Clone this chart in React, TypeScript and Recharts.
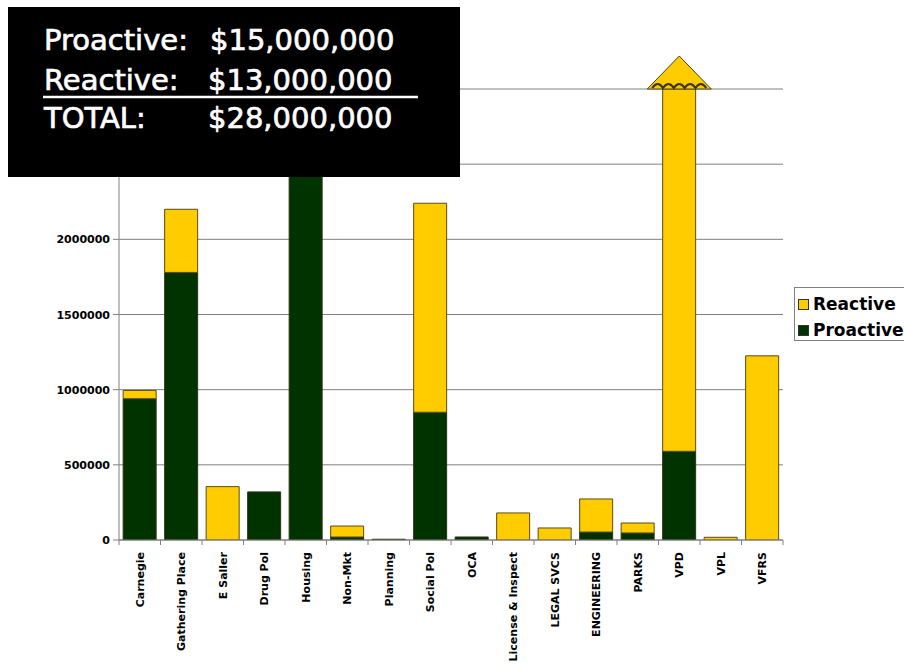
import { BarChart, Bar, XAxis, YAxis, CartesianGrid, ReferenceDot } from 'recharts';

const departments = [
  'Carnegie', 'Gathering Place', 'E Saller', 'Drug Pol', 'Housing', 'Non-Mkt', 'Planning', 'Social Pol',
  'OCA', 'License & Inspect', 'LEGAL SVCS', 'ENGINEERING', 'PARKS', 'VPD', 'VPL', 'VFRS',
];
const proactive = [940000, 1780000, 0, 320000, 10400000, 20000, 5000, 850000, 20000, 0, 0, 53000, 47000, 590000, 0, 0];
const reactive = [55000, 420000, 355000, 0, 0, 73000, 0, 1390000, 0, 180000, 80000, 220000, 66000, 8930000, 18000, 1225000];
const yTicks = [0, 500000, 1000000, 1500000, 2000000, 2500000, 3000000];
const yMax = 3000000;
// labels above this sit under the totals box in the original
const yLabelMax = 2000000;

const data = departments.map((name, i) => ({ name, proactive: proactive[i], reactive: reactive[i] }));

const YELLOW = '#FFCC00';
const GREEN = '#003300';
const GRID = '#808080';
const FONT = '"DejaVu Sans", Verdana, sans-serif';

// width of one category band: plot width / number of categories
const STEP = (904 - 119 - 121) / departments.length;

function DeptTick(props: any) {
  const { x, y, payload, index } = props;
  return (
    <g transform={`translate(${x},${y})`}>
      <line x1={-STEP / 2} x2={-STEP / 2} y1={0} y2={5} stroke={GRID} />
      {index === departments.length - 1 && (
        <line x1={STEP / 2} x2={STEP / 2} y1={0} y2={5} stroke={GRID} />
      )}
      <text
        transform="rotate(-90)"
        x={-12}
        y={4}
        textAnchor="end"
        fontSize={11}
        fontWeight="bold"
        fontFamily={FONT}
        fill="#000"
      >
        {payload.value}
      </text>
    </g>
  );
}

function ValueTick(props: any) {
  const { x, y, payload } = props;
  if (payload.value > yLabelMax) return <g />;
  return (
    <text x={x} y={y} dy={4} textAnchor="end" fontSize={11} fontWeight="bold" fontFamily={FONT} fill="#000">
      {payload.value}
    </text>
  );
}

// overflow arrow drawn on top of the VPD bar
function OverflowArrow(props: any) {
  const { cx, cy } = props;
  const w = 32;
  const h = 33;
  let wave = `M ${cx - 27} ${cy - 1}`;
  for (let k = 0; k < 5; k++) wave += ` q 5.4 -8 10.8 0`;
  return (
    <g>
      <path d={`M ${cx - w} ${cy} L ${cx} ${cy - h} L ${cx + w} ${cy} Z`} fill={YELLOW} stroke="#4a4020" strokeWidth={1} />
      <path d={wave} fill="none" stroke="#3f3510" strokeWidth={2.2} />
    </g>
  );
}

export default function App() {
  return (
    <div
      style={{
        position: 'absolute',
        left: 0,
        top: 0,
        width: 904,
        height: 669,
        overflow: 'hidden',
        background: '#fff',
        fontFamily: FONT,
      }}
    >
      <BarChart
        width={904}
        height={669}
        data={data}
        margin={{ top: 89, right: 121, bottom: 0, left: 0 }}
        barCategoryGap="10%"
      >
        <CartesianGrid vertical={false} stroke={GRID} />
        <XAxis
          dataKey="name"
          interval={0}
          height={129}
          tickSize={0}
          tickMargin={0}
          tick={<DeptTick />}
          tickLine={false}
          axisLine={{ stroke: GRID }}
        />
        <YAxis
          domain={[0, yMax]}
          allowDataOverflow
          ticks={yTicks}
          interval={0}
          width={119}
          tickSize={6}
          tickMargin={3}
          tick={<ValueTick />}
          axisLine={{ stroke: GRID }}
          tickLine={{ stroke: GRID }}
        />
        <YAxis
          yAxisId="frame"
          orientation="right"
          width={0}
          domain={[0, yMax]}
          tick={false}
          tickLine={false}
          axisLine={{ stroke: GRID }}
        />
        <Bar dataKey="proactive" stackId="a" fill={GREEN} stroke="#2c3316" isAnimationActive={false} />
        <Bar dataKey="reactive" stackId="a" fill={YELLOW} stroke="#5a4b14" isAnimationActive={false} />
        <ReferenceDot x="VPD" y={yMax} shape={<OverflowArrow />} />
      </BarChart>

      {/* totals box */}
      <svg style={{ position: 'absolute', left: 8, top: 7 }} width={452} height={170}>
        <rect x={0} y={0} width={452} height={170} fill="#000" />
        <g fill="#fff" stroke="#fff" strokeWidth={0.7} fontFamily={FONT} fontSize={29}>
          <text x={36} y={43}>Proactive:</text>
          <text x={202} y={43}>$15,000,000</text>
          <text x={36} y={83}>Reactive:</text>
          <text x={200} y={83}>$13,000,000</text>
          <text x={36} y={121}>TOTAL:</text>
          <text x={200} y={121}>$28,000,000</text>
        </g>
        <line x1={35} x2={410} y1={90} y2={90} stroke="#fff" strokeWidth={2.5} />
      </svg>

      {/* legend */}
      <div
        style={{
          position: 'absolute',
          left: 794,
          top: 287,
          width: 124,
          height: 54,
          border: `1px solid ${GRID}`,
          boxSizing: 'border-box',
        }}
      >
        {[
          { label: 'Reactive', color: YELLOW, top: 8 },
          { label: 'Proactive', color: GREEN, top: 34 },
        ].map((item) => (
          <div key={item.label} style={{ position: 'absolute', left: 3, top: item.top, display: 'flex', alignItems: 'center' }}>
            <div style={{ width: 9, height: 9, background: item.color, border: '1px solid #333', marginRight: 4 }} />
            <span style={{ fontSize: 17, fontWeight: 'bold', lineHeight: '16px', color: '#000' }}>{item.label}</span>
          </div>
        ))}
      </div>
    </div>
  );
}
